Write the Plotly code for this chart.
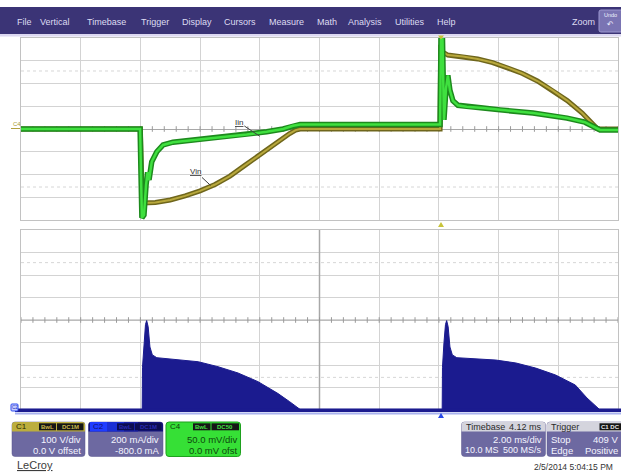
import numpy as np
import plotly.graph_objects as go

W, H = 621, 472

# ---------------- data ----------------
# C1  Vin  (V), 100 V/div, time in ms (2 ms/div)
t_vin = [0.0, 4.00, 4.06, 4.10, 4.5, 5.0, 5.5, 6.0, 6.5, 7.0, 7.5, 8.0, 8.5, 9.0, 9.2, 9.35,
         14.04, 14.06, 14.1, 14.3, 14.8, 15.3, 15.8, 16.3, 16.8, 17.3, 17.8, 18.3, 18.8, 19.1, 19.3, 19.4, 20.0]
vin = [0, 0, -320, -325, -323, -312, -294, -272, -244, -207, -160, -112, -64, -20, -5, 0,
       0, 370, 340, 325, 319, 308, 292, 270, 244, 211, 171, 125, 70, 31, 2, 0, 0]

# C4  Iin  (mV), 50 mV/div
t_iin = [0.0, 3.99, 4.05, 4.12, 4.19, 4.24, 4.29, 4.38, 4.55, 4.76, 5.09, 5.55, 6.22, 6.89, 7.56, 8.23, 8.78, 9.11, 9.35,
         14.04, 14.07, 14.12, 14.17, 14.24, 14.30, 14.37, 14.47, 14.64, 14.93, 15.48, 16.05, 17.15, 18.29, 18.89, 19.16, 19.4, 20.0]
iin = [0, 0, -195, -189, -123, -95, -112, -72, -50, -35, -29, -26, -22, -17, -12, -6, 0, 7, 10,
       10, 200, 200, 20, 90, 118, 85, 62, 52, 49, 46, 42, 35, 24, 15, 6, -2, -2]

# C2  current envelope (mA), 200 mA/div, -800 mA offset
t_c2 = [0.0, 4.06, 4.07, 4.12, 4.17, 4.21, 4.26, 4.32, 4.40, 4.55, 5.28, 5.94, 6.60, 7.27, 7.94, 8.60, 9.00, 9.27, 9.35,
        14.11, 14.12, 14.17, 14.22, 14.26, 14.31, 14.37, 14.45, 14.60, 15.91, 16.58, 17.24, 17.91, 18.57, 18.96, 19.30, 19.38, 20.0]
c2 = [5, 5, 380, 600, 760, 795, 740, 560, 490, 465, 444, 429, 385, 329, 252, 148, 74, 20, 5,
      5, 380, 600, 760, 795, 740, 560, 490, 465, 444, 418, 373, 311, 222, 107, 20, 5, 5]

menu_items = ["File", "Vertical", "Timebase", "Trigger", "Display", "Cursors",
              "Measure", "Math", "Analysis", "Utilities", "Help"]
menu_x = [15, 38, 85, 139, 180, 222, 267, 315, 346, 393, 435]

FONT = "Liberation Sans, Arial, sans-serif"


def X(px):
    return px / W


def Y(py):
    return 1 - py / H


def rpath(x0, y0, x1, y1, rtl=3, rtr=3, rbr=3, rbl=3):
    def p(a, b):
        return f"{X(a):.5f},{Y(b):.5f}"
    return (f"M{p(x0 + rtl, y0)} L{p(x1 - rtr, y0)} Q{p(x1, y0)} {p(x1, y0 + rtr)} "
            f"L{p(x1, y1 - rbr)} Q{p(x1, y1)} {p(x1 - rbr, y1)} L{p(x0 + rbl, y1)} "
            f"Q{p(x0, y1)} {p(x0, y1 - rbl)} L{p(x0, y0 + rtl)} Q{p(x0, y0)} {p(x0 + rtl, y0)} Z")


shapes = []
ann = []


def rect(x0, y0, x1, y1, fill, line=None, lw=0, layer="above"):
    shapes.append(dict(type="rect", xref="paper", yref="paper", x0=X(x0), x1=X(x1), y0=Y(y1), y1=Y(y0),
                       fillcolor=fill, line=dict(color=line or fill, width=lw), layer=layer))


def path(d, fill, line=None, lw=0):
    shapes.append(dict(type="path", xref="paper", yref="paper", path=d, fillcolor=fill,
                       line=dict(color=line or fill, width=lw), layer="above"))


def text(x, y, s, size=9.5, color="#ffffff", anchor="left", bold=False, family=FONT):
    if bold:
        s = f"<b>{s}</b>"
    ann.append(dict(xref="paper", yref="paper", x=X(x), y=Y(y), text=s, showarrow=False,
                    xanchor=anchor, yanchor="middle", font=dict(size=size, color=color, family=family)))


fig = go.Figure()

# centre-line tick marks
ticks_t = np.arange(0, 20.001, 0.4)
tick_marker = dict(symbol="line-ns-open", size=4, color="#9a9a9a", line=dict(color="#9a9a9a", width=1))
fig.add_trace(go.Scatter(x=ticks_t, y=[0] * len(ticks_t), mode="markers", xaxis="x", yaxis="y",
                         marker=tick_marker, hoverinfo="skip"))
fig.add_trace(go.Scatter(x=ticks_t, y=[800] * len(ticks_t), mode="markers", xaxis="x2", yaxis="y2",
                         marker=tick_marker, hoverinfo="skip"))

# Vin (C1)
fig.add_trace(go.Scatter(x=t_vin, y=vin, mode="lines", xaxis="x", yaxis="y",
                         line=dict(color="#6f661c", width=5), hoverinfo="skip"))
fig.add_trace(go.Scatter(x=t_vin, y=vin, mode="lines", xaxis="x", yaxis="y",
                         line=dict(color="#b8a83c", width=2), hoverinfo="skip"))
# Iin (C4)
fig.add_trace(go.Scatter(x=t_iin, y=iin, mode="lines", xaxis="x", yaxis="y3",
                         line=dict(color="#1d8a1d", width=5.5), hoverinfo="skip"))
fig.add_trace(go.Scatter(x=t_iin, y=iin, mode="lines", xaxis="x", yaxis="y3",
                         line=dict(color="#3fe03f", width=2.5), hoverinfo="skip"))
# C2 current
fig.add_trace(go.Scatter(x=t_c2, y=c2, mode="lines", xaxis="x2", yaxis="y2", fill="tozeroy",
                         fillcolor="#1b1b8f", line=dict(color="#1b1b8f", width=1), hoverinfo="skip"))

grid = dict(showgrid=True, gridcolor="#d3d3d3", gridwidth=1, zeroline=False, showticklabels=False,
            ticks="", showline=True, linecolor="#c2c2c2", linewidth=1, mirror=True, fixedrange=True)

fig.update_layout(
    width=W, height=H, autosize=False, margin=dict(l=0, r=0, t=0, b=0),
    paper_bgcolor="white", plot_bgcolor="white", showlegend=False,
    xaxis=dict(domain=[X(21), X(618)], range=[0, 20], dtick=2, tick0=0, anchor="y", **grid),
    yaxis=dict(domain=[Y(220), Y(38)], range=[-400, 400], dtick=100, tick0=0, anchor="x",
               **{**grid, "zeroline": True, "zerolinecolor": "#a8a8a8", "zerolinewidth": 1}),
    yaxis3=dict(overlaying="y", range=[-200, 200], visible=False, fixedrange=True),
    xaxis2=dict(domain=[X(21), X(618)], range=[0, 20], dtick=2, tick0=0, anchor="y2", **grid),
    yaxis2=dict(domain=[Y(410), Y(230)], range=[0, 1600], dtick=200, tick0=0, anchor="x2", **grid),
)

# grid extras (dotted lines, darker centre lines)
for yv in (255, -255):
    shapes.append(dict(type="line", xref="x", yref="y", x0=0, x1=20, y0=yv, y1=yv,
                       line=dict(color="#d6d6d6", width=1, dash="dot"), layer="between"))
for yv in (1310, 290):
    shapes.append(dict(type="line", xref="x2", yref="y2", x0=0, x1=20, y0=yv, y1=yv,
                       line=dict(color="#d6d6d6", width=1, dash="dot"), layer="between"))
shapes.append(dict(type="line", xref="x2", yref="y2", x0=0, x1=20, y0=800, y1=800,
                   line=dict(color="#a8a8a8", width=1), layer="between"))
shapes.append(dict(type="line", xref="x2", yref="y2", x0=10, x1=10, y0=0, y1=1600,
                   line=dict(color="#a8a8a8", width=1.5), layer="between"))

# menu bar
rect(0, 7, 621, 34, "#3b3476")
rect(0, 34, 621, 36.5, "#dcd8f1")
for name, mx in zip(menu_items, menu_x):
    text(mx, 21.5, name, size=9, color="#dedcf2")
text(570, 21.5, "Zoom", size=9, color="#dedcf2")
path(rpath(599, 10, 624, 32, 2, 2, 2, 2), "#7a74b3", "#9d98cf", 1)
text(610, 15.5, "Undo", size=5.5, color="#f0f0ff", anchor="center")
text(610, 25, "↶", size=8, color="#f0f0ff", anchor="center", family="DejaVu Sans")

# baseline of C2 + underline
rect(15, 408.5, 621, 412, "#1b1b8f")
rect(15, 412.5, 621, 414.5, "#a9b3ee")

# channel markers on left
text(11, 123.5, "C4", size=6, color="#a89d32")
shapes.append(dict(type="line", xref="paper", yref="paper", x0=X(11), x1=X(20), y0=Y(128.5), y1=Y(128.5),
                   line=dict(color="#b0a040", width=1)))
path(rpath(11, 404, 18, 411, 1, 1, 1, 1), "#c5ccff", "#2f4cf0", 1)
text(14.5, 407.5, "C2", size=4.5, color="#2030c0", anchor="center")

# trigger markers
path(f"M{X(438):.5f},{Y(35.5):.5f} L{X(444):.5f},{Y(35.5):.5f} L{X(441):.5f},{Y(39.5):.5f} Z", "#c8c43a")
path(f"M{X(438):.5f},{Y(227):.5f} L{X(444):.5f},{Y(227):.5f} L{X(441):.5f},{Y(222):.5f} Z", "#c8c43a")
path(f"M{X(438):.5f},{Y(418):.5f} L{X(444):.5f},{Y(418):.5f} L{X(441):.5f},{Y(413):.5f} Z", "#2848e8")

# trace labels
fig.add_annotation(x=8.0, y=-32, xref="x", yref="y", text="<u>Iin</u>", showarrow=True, arrowhead=0,
                   arrowwidth=1, arrowcolor="#404040", ax=-21, ay=-14,
                   font=dict(size=8, color="#303030", family=FONT))
fig.add_annotation(x=6.35, y=-248, xref="x", yref="y", text="<u>Vin</u>", showarrow=True, arrowhead=0,
                   arrowwidth=1, arrowcolor="#404040", ax=-15, ay=-14,
                   font=dict(size=8, color="#303030", family=FONT))

BODY = "#6d69a1"
HEAD_GRAY = "#d4d4dd"

# C1 box
path(rpath(12, 422, 85, 456.5), BODY, "#5a568c", 0.5)
path(rpath(12, 422, 85, 431.5, 3, 3, 0, 0), "#bcae3e")
text(14, 426.8, "C1", size=8, color="#2a2800")
rect(39, 423.3, 56, 430.3, "#161616")
rect(57, 423.3, 83.5, 430.3, "#161616")
text(47.5, 426.8, "BwL", size=6, color="#c9b84a", anchor="center", bold=True)
text(70.2, 426.8, "DC1M", size=6, color="#c9b84a", anchor="center", bold=True)
text(83, 439, "100 V/div", size=9.5, color="#f4f4ff", anchor="right")
text(83, 450, "0.0 V offset", size=9.5, color="#f4f4ff", anchor="right")

# C2 box
path(rpath(88.5, 422, 163, 456.5), BODY, "#5a568c", 0.5)
path(rpath(88.5, 422, 163, 431.5, 3, 3, 0, 0), "#14147e")
rect(90, 422, 107, 431.5, "#1f3cff")
rect(107, 422, 124, 431.5, "#1b2fd4")
rect(124, 422, 138, 431.5, "#1820a6")
text(91, 426.8, "C2", size=8, color="#101070")
rect(117, 423.3, 134, 430.3, "#0c0c50")
rect(135, 423.3, 161.5, 430.3, "#0c0c50")
text(125.5, 426.8, "BwL", size=6, color="#2a2ab0", anchor="center", bold=True)
text(148.2, 426.8, "DC1M", size=6, color="#2a2ab0", anchor="center", bold=True)
text(161, 439, "200 mA/div", size=9.5, color="#f4f4ff", anchor="right")
text(161, 450, "-800.0 mA", size=9.5, color="#f4f4ff", anchor="right")

# C4 box
path(rpath(166, 422, 240.5, 456.5), "#36e036", "#1ea01e", 1)
text(168, 426.8, "C4", size=8, color="#0e400e")
rect(193, 423.3, 210.5, 430.3, "#161616")
rect(211.5, 423.3, 239, 430.3, "#161616")
text(201.7, 426.8, "BwL", size=6, color="#44e044", anchor="center", bold=True)
text(225.2, 426.8, "DC50", size=6, color="#44e044", anchor="center", bold=True)
text(238.5, 439, "50.0 mV/div", size=9.5, color="#0e4a0e", anchor="right")
text(238.5, 450, "0.0 mV ofst", size=9.5, color="#0e4a0e", anchor="right")

# Timebase box
path(rpath(461.5, 422, 545.5, 456.5), BODY, "#5a568c", 0.5)
path(rpath(461.5, 422, 545.5, 431.5, 3, 3, 0, 0), HEAD_GRAY)
text(463.5, 426.8, "Timebase", size=9, color="#2a2a2a")
text(544, 426.8, "4.12 ms", size=9, color="#2a2a2a", anchor="right")
text(543.5, 439, "2.00 ms/div", size=9.5, color="#f4f4ff", anchor="right")
text(463, 450, "10.0 MS", size=9, color="#f4f4ff")
text(544, 450, "500 MS/s", size=9, color="#f4f4ff", anchor="right")

# Trigger box
path(rpath(547, 422, 626, 456.5), BODY, "#5a568c", 0.5)
path(rpath(547, 422, 626, 431.5, 3, 3, 0, 0), HEAD_GRAY)
text(549, 426.8, "Trigger", size=9, color="#2a2a2a")
rect(599.5, 423.3, 621, 430.3, "#161616")
text(610.2, 426.8, "C1 DC", size=6, color="#e8e8e8", anchor="center", bold=True)
text(549, 439, "Stop", size=9.5, color="#f4f4ff")
text(620, 439, "409 V", size=9.5, color="#f4f4ff", anchor="right")
text(549, 450, "Edge", size=9.5, color="#f4f4ff")
text(620, 450, "Positive", size=9.5, color="#f4f4ff", anchor="right")

# footer
text(15, 465, "<u>LeCroy</u>", size=11, color="#3c3c3c")
text(615, 466.5, "2/5/2014 5:04:15 PM", size=8.5, color="#333333", anchor="right")

fig.update_layout(shapes=shapes)
for a in ann:
    fig.add_annotation(**a)

fig.write_html("out.html", config={"displayModeBar": False, "staticPlot": True},
               post_script="document.body.style.margin='0';document.body.style.padding='0';"
                           "document.documentElement.style.overflow='hidden';")
